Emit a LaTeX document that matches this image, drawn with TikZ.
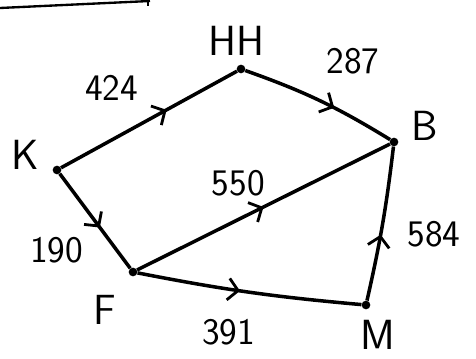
\documentclass[tikz,border=0pt]{standalone}
\usepackage{tikz}
\usetikzlibrary{arrows.meta,positioning,decorations.markings}

\begin{document}
\begin{tikzpicture}[
        vertex/.style={circle, fill=black, inner sep=0pt, minimum size=2.6mm},
        city/.style={font=\sffamily\fontsize{36}{40}\selectfont, inner sep=0pt},
        weight/.style={font=\sffamily\fontsize{32}{36}\selectfont, inner sep=0pt},
        road/.style={line width=3pt, postaction={decorate}, decoration={markings, mark=at position #1 with {\arrow{Straight Barb[length=3mm,width=6.5mm,line width=2.4pt]}}}},
        road/.default=0.55
    ]
    \useasboundingbox (0,0) rectangle (14.28,10.77);
    \node[vertex] (k) at (1.71,5.67) {};
    \node[vertex] (hh) at (7.23,8.70) {};
    \node[vertex] (b) at (11.82,6.51) {};
    \node[vertex] (f) at (3.99,2.61) {};
    \node[vertex] (m) at (10.98,1.62) {};
    \node[city] (klabel) at ([shift={(-0.96,0.45)}]k) {K};
    \node[city] (hhlabel) at ([shift={(-0.15,0.84)}]hh) {HH};
    \node[city] (blabel) at ([shift={(0.93,0.48)}]b) {B};
    \node[city] (flabel) at ([shift={(-0.84,-1.14)}]f) {F};
    \node[city] (mlabel) at ([shift={(0.36,-0.9)}]m) {M};
    \draw[road=0.6] (k) -- node[weight, pos=0.25, xshift=0.2cm, yshift=1.68cm] {424} (hh);
    \draw[road=0.6] (hh) to[bend left=6] node[weight, pos=0.7, xshift=0.2cm, yshift=1.6cm] {287} (b);
    \draw[road=0.57] (k) -- node[weight, pos=0.75, xshift=-1.68cm, yshift=-0.18cm] {190} (f);
    \draw[road=0.5] (f) -- node[weight, pos=0.4, yshift=1.1cm] {550} (b);
    \draw[road=0.46] (f) to[bend right=3] node[weight, pos=0.4, yshift=-1.3cm] {391} (m);
    \draw[road=0.43] (m) to[bend right=3] node[weight, pos=0.43, xshift=1.6cm] {584} (b);
    % stroke cut off at the top edge
    \draw[line width=2pt] (0,10.53) -- (4.5,10.74);
    \draw[line width=1.5pt] (4.44,10.77) -- (4.44,10.6);
\end{tikzpicture}
\end{document}
